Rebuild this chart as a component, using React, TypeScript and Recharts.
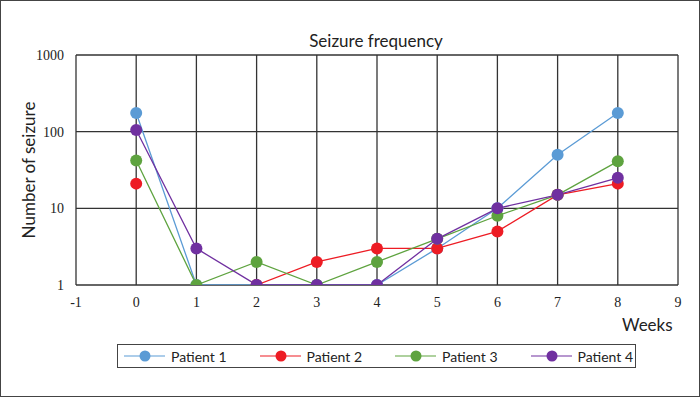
import { LineChart, Line, XAxis, YAxis, CartesianGrid, Label } from "recharts";

// ── Data ─────────────────────────────────────────────────────────────────────

const weeks = [0, 1, 2, 3, 4, 5, 6, 7, 8];
const xTicks = [-1, 0, 1, 2, 3, 4, 5, 6, 7, 8, 9];
const yTicks = [1, 10, 100, 1000];

const patient1 = [175, 1, 1, 1, 1, 3, 10, 50, 175];
const patient2 = [21, null, 1, 2, 3, 3, 5, 15, 21];
const patient3 = [42, 1, 2, 1, 2, 4, 8, 15, 41];
const patient4 = [105, 3, 1, 1, 1, 4, 10, 15, 25];

const SERIES = [
  { key: "p1", name: "Patient 1", color: "#5b9bd5", values: patient1 },
  { key: "p2", name: "Patient 2", color: "#ed1c24", values: patient2 },
  { key: "p3", name: "Patient 3", color: "#5ea33f", values: patient3 },
  { key: "p4", name: "Patient 4", color: "#7030a0", values: patient4 },
];

const data = weeks.map((w, i) => {
  const row: Record<string, number | null> = { week: w };
  SERIES.forEach((s) => (row[s.key] = s.values[i]));
  return row;
});

const FONT = "Lato, 'Open Sans', sans-serif";
const TICK_FONT = "'Liberation Serif', 'DejaVu Serif', serif";
const tickStyle = { fontSize: 14, fill: "#222", fontFamily: TICK_FONT };

export default function App() {
  return (
    <div
      style={{
        position: "absolute",
        left: 0,
        top: 0,
        width: 700,
        height: 397,
        background: "#fff",
        boxSizing: "border-box",
        border: "1px solid #444",
        fontFamily: FONT,
        color: "#222",
      }}
    >
      <div
        style={{
          position: "absolute",
          top: 29,
          left: 275,
          width: 200,
          textAlign: "center",
          fontSize: 17,
        }}
      >
        Seizure frequency
      </div>
      <div style={{ position: "absolute", left: 621, top: 313, fontSize: 17 }}>Weeks</div>
      <LineChart
        width={698}
        height={395}
        data={data}
        margin={{ top: 54, right: 21, bottom: 81, left: 0 }}
        style={{ position: "absolute", left: 0, top: 0 }}
      >
        <CartesianGrid stroke="#333" strokeWidth={1.3} />
        <XAxis
          type="number"
          dataKey="week"
          domain={[-1, 9]}
          ticks={xTicks}
          interval={0}
          axisLine={false}
          tickLine={false}
          tick={tickStyle}
          height={30}
          tickMargin={6}
        />
        <YAxis
          scale="log"
          domain={[1, 1000]}
          ticks={yTicks}
          interval={0}
          allowDataOverflow
          axisLine={false}
          tickLine={false}
          tick={tickStyle}
          width={75}
          tickMargin={6}
        >
          <Label
            value="Number of seizure"
            angle={-90}
            position="insideLeft"
            offset={28}
            style={{ fontSize: 17, fill: "#222", fontFamily: FONT, textAnchor: "middle" }}
          />
        </YAxis>
        {SERIES.map((s) => (
          <Line
            key={s.key}
            dataKey={s.key}
            name={s.name}
            type="linear"
            stroke={s.color}
            strokeWidth={1.3}
            dot={{ r: 6, fill: s.color, stroke: s.color, strokeWidth: 0 }}
            isAnimationActive={false}
          />
        ))}
      </LineChart>
      <div
        style={{
          position: "absolute",
          left: 116,
          top: 343,
          width: 519,
          height: 24,
          boxSizing: "border-box",
          border: "1px solid #444",
          display: "flex",
          alignItems: "center",
          paddingLeft: 6,
          fontSize: 14,
        }}
      >
        {SERIES.map((s) => (
          <div key={s.key} style={{ display: "flex", alignItems: "center", width: 135.5, flexShrink: 0 }}>
            <svg width={41} height={12} style={{ marginRight: 6 }}>
              <line x1={0} y1={6} x2={41} y2={6} stroke={s.color} strokeWidth={1.2} />
              <circle cx={21} cy={6} r={5.5} fill={s.color} />
            </svg>
            <span>{s.name}</span>
          </div>
        ))}
      </div>
    </div>
  );
}
